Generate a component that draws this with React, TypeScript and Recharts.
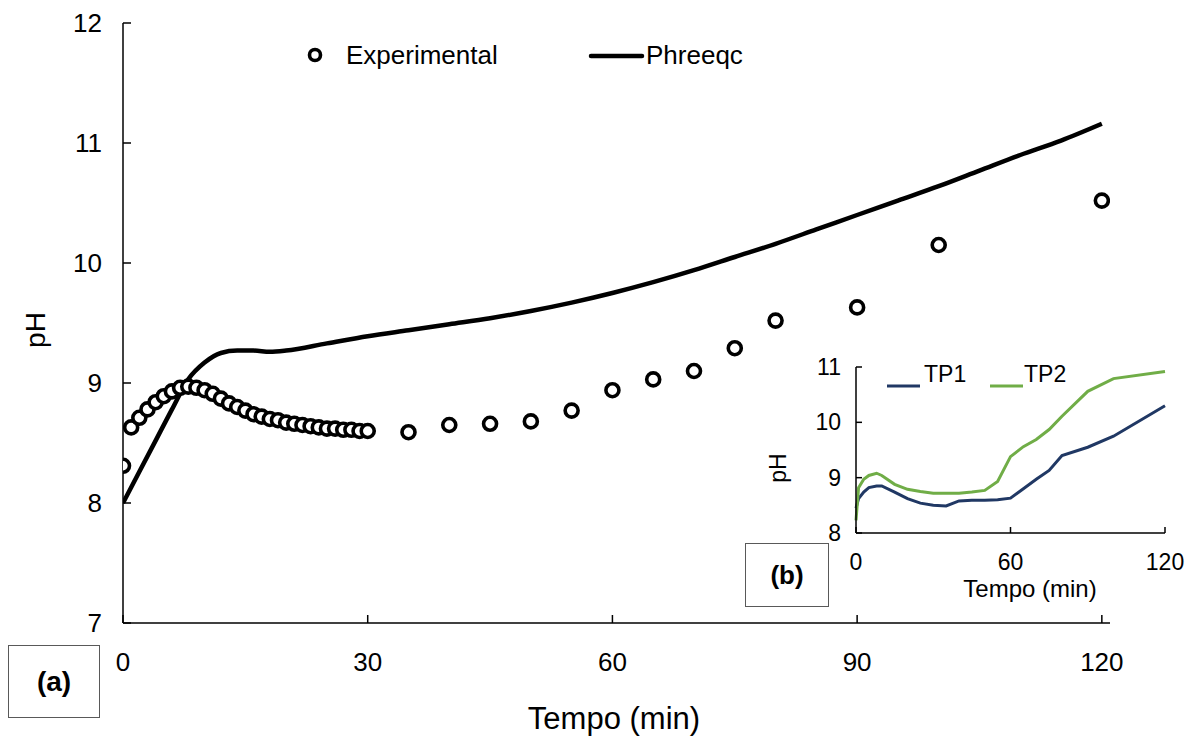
import React from "react";
import { ComposedChart, LineChart, Line, Scatter, XAxis, YAxis } from "recharts";

// (a) experimental pH readings
const expTimes = [
  0, 1, 2, 3, 4, 5, 6, 7, 8, 9, 10, 11, 12, 13, 14, 15, 16, 17, 18, 19, 20,
  21, 22, 23, 24, 25, 26, 27, 28, 29, 30, 35, 40, 45, 50, 55, 60, 65, 70, 75,
  80, 90, 100, 120,
];
const expPh = [
  8.31, 8.63, 8.71, 8.78, 8.84, 8.89, 8.93, 8.96, 8.97, 8.96, 8.94, 8.91,
  8.87, 8.83, 8.8, 8.77, 8.74, 8.72, 8.7, 8.69, 8.67, 8.66, 8.65, 8.64, 8.63,
  8.62, 8.62, 8.61, 8.61, 8.6, 8.6, 8.59, 8.65, 8.66, 8.68, 8.77, 8.94, 9.03,
  9.1, 9.29, 9.52, 9.63, 10.15, 10.52,
];

// (a) Phreeqc model
const modelTimes = [
  0, 2, 4, 6, 8, 10, 12, 14, 16, 18, 20, 25, 30, 35, 40, 45, 50, 55, 60, 65,
  70, 75, 80, 85, 90, 95, 100, 105, 110, 115, 120,
];
const modelPh = [
  8.0, 8.26, 8.52, 8.78, 9.03, 9.17, 9.25, 9.27, 9.27, 9.26, 9.27, 9.33,
  9.39, 9.44, 9.49, 9.54, 9.6, 9.67, 9.75, 9.84, 9.94, 10.05, 10.16, 10.28,
  10.4, 10.52, 10.64, 10.77, 10.9, 11.02, 11.16,
];

// (b) inset
const insetTimes = [
  0, 1, 3, 5, 8, 10, 15, 20, 25, 30, 35, 40, 45, 50, 55, 60, 65, 70, 75, 80,
  90, 100, 120,
];
const tp1 = [
  8.45, 8.62, 8.74, 8.82, 8.85, 8.85, 8.74, 8.62, 8.54, 8.5, 8.49, 8.58, 8.59,
  8.59, 8.6, 8.63, 8.8, 8.97, 9.13, 9.4, 9.55, 9.75, 10.3,
];
const tp2 = [
  8.23, 8.82, 8.97, 9.04, 9.08, 9.04, 8.88, 8.79, 8.75, 8.72, 8.72, 8.72,
  8.74, 8.77, 8.93, 9.38, 9.56, 9.69, 9.87, 10.11, 10.56, 10.79, 10.92,
];

const mainXTicks = [0, 30, 60, 90, 120];
const mainYTicks = [7, 8, 9, 10, 11, 12];
const insetXTicks = [0, 60, 120];
const insetYTicks = [8, 9, 10, 11];

const expData = expTimes.map((t, i) => ({ t, ph: expPh[i] }));
const modelData = modelTimes.map((t, i) => ({ t, ph: modelPh[i] }));
const insetData = insetTimes.map((t, i) => ({ t, tp1: tp1[i], tp2: tp2[i] }));

const FONT = "'Liberation Sans', Arial, sans-serif";
const NAVY = "#203864";
const GREEN = "#70AD47";

const MainYTick = (props: any) => {
  const { x, y, payload } = props;
  return (
    <g>
      <line x1={x} x2={x + 8} y1={y} y2={y} stroke="#000" strokeWidth={1.5} />
      <text x={x - 21} y={y} textAnchor="end" dominantBaseline="central" fontSize={26} fontFamily={FONT} fill="#000">
        {payload.value}
      </text>
    </g>
  );
};

const MainXTick = (props: any) => {
  const { x, y, payload } = props;
  return (
    <g>
      <line x1={x} x2={x} y1={y} y2={y - 8} stroke="#000" strokeWidth={1.5} />
      <text x={x} y={y + 39} textAnchor="middle" dominantBaseline="central" fontSize={26} fontFamily={FONT} fill="#000">
        {payload.value}
      </text>
    </g>
  );
};

const InsetYTick = (props: any) => {
  const { x, y, payload } = props;
  return (
    <g>
      <line x1={x} x2={x + 6} y1={y} y2={y} stroke="#000" strokeWidth={1.5} />
      <text x={x - 15} y={y} textAnchor="end" dominantBaseline="central" fontSize={23} fontFamily={FONT} fill="#000">
        {payload.value}
      </text>
    </g>
  );
};

const InsetXTick = (props: any) => {
  const { x, y, payload } = props;
  return (
    <g>
      <line x1={x} x2={x} y1={y} y2={y - 6} stroke="#000" strokeWidth={1.5} />
      <text x={x} y={y + 29} textAnchor="middle" dominantBaseline="central" fontSize={23} fontFamily={FONT} fill="#000">
        {payload.value}
      </text>
    </g>
  );
};

const Ring = (props: any) => (
  <circle cx={props.cx} cy={props.cy} r={6.5} fill="#fff" stroke="#000" strokeWidth={3.6} />
);

const abs = (left: number, top: number): React.CSSProperties => ({
  position: "absolute",
  left,
  top,
  fontFamily: FONT,
  color: "#000",
  whiteSpace: "nowrap",
  lineHeight: 1,
});

// centered vertically on y
const at = (left: number, y: number, size: number): React.CSSProperties => ({
  ...abs(left, y),
  fontSize: size,
  transform: "translateY(-50%)",
});

export default function App() {
  return (
    <div style={{ position: "absolute", left: 0, top: 0, width: 1196, height: 740, background: "#fff", overflow: "hidden" }}>
      <ComposedChart width={1196} height={740} margin={{ top: 23, right: 86, bottom: 37, left: 23 }}>
        <XAxis
          dataKey="t"
          type="number"
          domain={[0, 121]}
          ticks={mainXTicks}
          height={80}
          tickSize={0}
          tickMargin={0}
          tickLine={false}
          axisLine={{ stroke: "#000", strokeWidth: 1.5 }}
          tick={<MainXTick />}
          interval={0}
          allowDataOverflow
        />
        <YAxis
          type="number"
          domain={[7, 12]}
          ticks={mainYTicks}
          width={100}
          tickSize={0}
          tickMargin={0}
          tickLine={false}
          axisLine={{ stroke: "#000", strokeWidth: 1.5 }}
          tick={<MainYTick />}
          interval={0}
          allowDataOverflow
        />
        <Scatter data={expData} dataKey="ph" shape={<Ring />} isAnimationActive={false} />
        <Line data={modelData} dataKey="ph" type="monotone" stroke="#000" strokeWidth={4.5} dot={false} isAnimationActive={false} />
      </ComposedChart>

      {/* main legend */}
      <svg width={1196} height={740} style={{ position: "absolute", left: 0, top: 0, pointerEvents: "none" }}>
        <circle cx={315} cy={55} r={5.5} fill="#fff" stroke="#000" strokeWidth={3.6} />
        <line x1={591} x2={642} y1={56} y2={56} stroke="#000" strokeWidth={4.5} strokeLinecap="round" />
        <line x1={887} x2={920} y1={386} y2={386} stroke={NAVY} strokeWidth={3} />
        <line x1={990} x2={1023} y1={386} y2={386} stroke={GREEN} strokeWidth={3} />
      </svg>
      <div style={at(346, 55, 26)}>Experimental</div>
      <div style={at(646, 55, 26)}>Phreeqc</div>

      {/* main axis titles */}
      <div style={{ ...abs(36, 330), fontSize: 28, transform: "translate(-50%, -50%) rotate(-90deg)" }}>pH</div>
      <div style={{ ...abs(614, 718), fontSize: 31, transform: "translate(-50%, -50%)" }}>Tempo (min)</div>

      {/* (a) box */}
      <div
        style={{
          ...abs(8, 645),
          width: 92,
          height: 73,
          border: "1px solid #595959",
          boxSizing: "border-box",
          display: "flex",
          alignItems: "center",
          justifyContent: "center",
          fontSize: 28,
          fontWeight: "bold",
        }}
      >
        (a)
      </div>

      {/* inset (b) */}
      <div style={{ position: "absolute", left: 740, top: 340 }}>
        <LineChart width={450} height={270} data={insetData} margin={{ top: 27, right: 25, bottom: 27, left: 56 }}>
          <XAxis
            dataKey="t"
            type="number"
            domain={[0, 120]}
            ticks={insetXTicks}
            height={50}
            tickSize={0}
            tickMargin={0}
            tickLine={false}
            axisLine={{ stroke: "#000", strokeWidth: 1.5 }}
            tick={<InsetXTick />}
            interval={0}
          />
          <YAxis
            type="number"
            domain={[8, 11]}
            ticks={insetYTicks}
            width={60}
            tickSize={0}
            tickMargin={0}
            tickLine={false}
            axisLine={{ stroke: "#000", strokeWidth: 1.5 }}
            tick={<InsetYTick />}
            interval={0}
          />
          <Line dataKey="tp1" type="linear" stroke={NAVY} strokeWidth={3} dot={false} isAnimationActive={false} />
          <Line dataKey="tp2" type="linear" stroke={GREEN} strokeWidth={3} dot={false} isAnimationActive={false} />
        </LineChart>
      </div>

      {/* inset legend */}
      <div style={at(924, 374, 23)}>TP1</div>
      <div style={at(1024, 374, 23)}>TP2</div>

      <div style={{ ...abs(778, 468), fontSize: 23, transform: "translate(-50%, -50%) rotate(-90deg)" }}>pH</div>
      <div style={{ ...abs(1030, 589), fontSize: 24, transform: "translate(-50%, -50%)" }}>Tempo (min)</div>

      <div
        style={{
          ...abs(745, 543),
          width: 84,
          height: 64,
          border: "1px solid #595959",
          boxSizing: "border-box",
          display: "flex",
          alignItems: "center",
          justifyContent: "center",
          fontSize: 26,
          fontWeight: "bold",
          background: "#fff",
        }}
      >
        (b)
      </div>
    </div>
  );
}
